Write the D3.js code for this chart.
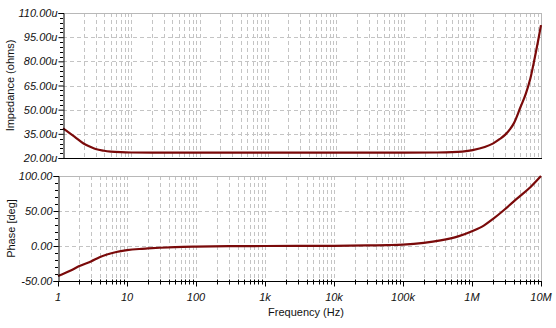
<!DOCTYPE html>
<html><head><meta charset="utf-8">
<script src="https://cdn.jsdelivr.net/npm/d3@7"></script>
<style>
html,body{margin:0;padding:0;background:#fff;}
svg{display:block;font-family:"Liberation Sans",Arial,sans-serif;}
</style></head>
<body>
<svg id="c" width="556" height="328"></svg>
<script>
// ---- data ----
const xTickValues = [1,10,100,1e3,1e4,1e5,1e6,1e7];
const xTickLabels = ["1","10","100","1k","10k","100k","1M","10M"];
const impTicks = [20,35,50,65,80,95,110];
const phaseTicks = [-50,0,50,100];
const impFreq = [1,1.25,1.5,2,2.5,3,4,5,7,10,20,50,100,1e3,1e4,1e5,3e5,5e5,7e5,1e6,1.5e6,2e6,2.5e6,3e6,3.5e6,4e6,5e6,6e6,7e6,8e6,9e6,1e7];
const impVals = [38.4,35.5,33,29,27,25.6,24.5,24,23.6,23.4,23.3,23.3,23.3,23.3,23.3,23.3,23.4,23.6,24.0,24.9,26.8,29.1,31.8,34.5,37.8,41.5,51.5,60,69.5,81,92,102.5];
const phaseFreq = [1,1.5,2,3,4,5,7,10,15,20,30,50,100,300,1e3,1e4,3e4,6e4,1e5,2e5,3.5e5,6.3e5,1e6,1.5e6,2e6,3e6,4e6,5e6,7e6,1e7];
const phaseVals = [-43,-35.5,-29,-22,-16,-12.5,-8.5,-6,-4.3,-3.5,-2.5,-1.5,-0.8,-0.3,0,0.3,0.8,1.3,2,4.5,8,13.7,21,29.5,38.4,52.5,63.5,71.6,84,100];

const svg = d3.select("#c");
const gridCol = "#c4c4c4", borderCol = "#b8b8b8", curveCol = "#7a0a0a";

function minorFreqs(){
  const a=[];
  for(let d=0; d<7; d++) for(let k=1;k<=9;k++){ const f=k*Math.pow(10,d); if(f>1) a.push(f); }
  return a;
}

function panel(opt){
  const x = d3.scaleLog().domain([1,1e7]).range([opt.x0, 541]);
  const y = d3.scaleLinear().domain(opt.domain).range([opt.y1, opt.y0]);
  const g = svg.append("g");
  g.selectAll(".vg").data(minorFreqs()).join("line")
    .attr("x1",d=>Math.round(x(d))+0.5).attr("x2",d=>Math.round(x(d))+0.5)
    .attr("y1",opt.y0).attr("y2",opt.y1)
    .attr("stroke",gridCol).attr("stroke-dasharray","4,3").attr("stroke-width",1);
  g.selectAll(".hg").data(opt.ticks.slice(1,-1)).join("line")
    .attr("x1",opt.x0).attr("x2",541)
    .attr("y1",d=>Math.round(y(d))+0.5).attr("y2",d=>Math.round(y(d))+0.5)
    .attr("stroke",gridCol).attr("stroke-dasharray","4,3");
  g.append("line").attr("x1",opt.x0).attr("x2",541.5).attr("y1",opt.y0+0.5).attr("y2",opt.y0+0.5).attr("stroke",borderCol);
  g.append("line").attr("x1",541.5).attr("x2",541.5).attr("y1",opt.y0).attr("y2",opt.y1).attr("stroke",borderCol);
  const line = d3.line().x(d=>x(d[0])).y(d=>y(d[1])).curve(d3.curveMonotoneX);
  g.append("path").datum(opt.freq.map((f,i)=>[f,opt.vals[i]]))
    .attr("d",line).attr("fill","none").attr("stroke",curveCol).attr("stroke-width",2.2);
  const yAxis = d3.axisLeft(y).tickValues(opt.ticks).tickFormat(opt.fmt).tickSize(5).tickPadding(1);
  const ya = g.append("g").attr("transform",`translate(${opt.x0+0.5},0)`).call(yAxis);
  ya.select(".domain").attr("stroke","#000");
  ya.selectAll("text").attr("font-size",11).attr("font-style","italic").attr("fill","#111")
    .attr("font-family","'Liberation Sans',Arial,sans-serif");
  const minorY=[];
  for(let i=0;i<opt.ticks.length-1;i++){
    const a=opt.ticks[i], b=opt.ticks[i+1];
    for(let k=1;k<5;k++) minorY.push(a+(b-a)*k/5);
  }
  g.selectAll(".my").data(minorY).join("line")
    .attr("x1",opt.x0-3).attr("x2",opt.x0)
    .attr("y1",d=>Math.round(y(d))+0.5).attr("y2",d=>Math.round(y(d))+0.5).attr("stroke","#000");
  g.append("line").attr("x1",opt.x0).attr("x2",542).attr("y1",opt.y1+0.5).attr("y2",opt.y1+0.5).attr("stroke","#000");
  g.append("text").attr("transform",`translate(${opt.lx},${(opt.y0+opt.y1)/2}) rotate(-90)`)
    .attr("text-anchor","middle").attr("dy","0.35em").attr("font-size",11).attr("fill","#111").text(opt.label);
  return {x,y,g};
}

const topPanel = panel({x0:63, y0:13, y1:158, domain:[20,110], ticks:impTicks,
  fmt:d=>d.toFixed(2)+"u", freq:impFreq, vals:impVals, label:"Impedance (ohms)", lx:10});
const botPanel = panel({x0:58, y0:176, y1:281, domain:[-50,100], ticks:phaseTicks,
  fmt:d=>d.toFixed(2), freq:phaseFreq, vals:phaseVals, label:"Phase [deg]", lx:11});

const xb = botPanel.x, yb = 281.5;
svg.selectAll(".mx").data(minorFreqs().filter(f=>!xTickValues.includes(f))).join("line")
  .attr("x1",d=>Math.round(xb(d))+0.5).attr("x2",d=>Math.round(xb(d))+0.5)
  .attr("y1",yb-2).attr("y2",yb+3).attr("stroke","#000");
svg.selectAll(".Mx").data(xTickValues).join("line")
  .attr("x1",d=>Math.round(xb(d))+0.5).attr("x2",d=>Math.round(xb(d))+0.5)
  .attr("y1",yb).attr("y2",yb+5).attr("stroke","#000");
svg.selectAll(".xl").data(xTickValues).join("text")
  .attr("x",d=>xb(d)).attr("y",301).attr("text-anchor","middle")
  .attr("font-size",11).attr("font-style","italic").attr("fill","#111")
  .text((d,i)=>xTickLabels[i]);
svg.append("text").attr("x",306).attr("y",316).attr("text-anchor","middle")
  .attr("font-size",11).attr("fill","#111").text("Frequency (Hz)");
</script>
</body></html>
